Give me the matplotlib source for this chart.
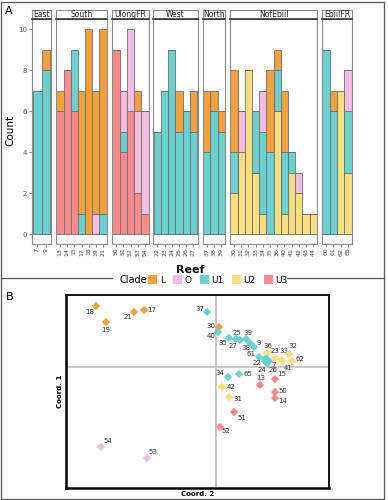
import matplotlib
matplotlib.use("Agg")
import matplotlib.pyplot as plt
from matplotlib.patches import Patch, Rectangle
from matplotlib.lines import Line2D

# ---- panel A data: reef groups, reefs, clade counts per reef ----
regions = ['East', 'South', 'UlongFR', 'West', 'North', 'NofEbiil', 'EbiilFR']
reefs = [['7', '9'],
         ['13', '14', '15', '17', '18', '19', '21'],
         ['50', '51', '52', '53', '54'],
         ['22', '23', '24', '25', '26', '27'],
         ['37', '38', '39'],
         ['30', '31', '32', '33', '34', '35', '36', '40', '41', '42', '43', '44'],
         ['60', '61', '62', '65']]

count_L = [[0, 1], [1, 0, 0, 6, 10, 6, 9], [0, 0, 0, 1, 0], [0, 0, 0, 2, 0, 2], [3, 1, 1],
           [4, 0, 0, 0, 0, 4, 1, 3, 0, 0, 0, 0], [0, 1, 0, 0]]
count_O = [[0, 0], [0, 0, 0, 0, 0, 1, 0], [0, 2, 4, 4, 5], [0, 0, 0, 0, 0, 0], [0, 0, 0],
           [0, 2, 0, 0, 2, 0, 0, 0, 0, 1, 0, 0], [0, 0, 0, 2]]
count_U1 = [[7, 8], [0, 0, 3, 1, 0, 0, 1], [0, 1, 0, 0, 0], [5, 7, 9, 5, 6, 5], [4, 6, 5],
            [2, 0, 0, 3, 4, 4, 2, 3, 1, 0, 0, 0], [9, 6, 0, 3]]
count_U2 = [[0, 0], [0, 0, 0, 0, 0, 0, 0], [0, 0, 0, 0, 0], [0, 0, 0, 0, 0, 0], [0, 0, 0],
            [2, 4, 8, 3, 1, 0, 6, 1, 3, 2, 1, 1], [0, 0, 7, 3]]
count_U3 = [[0, 0], [6, 8, 6, 0, 0, 0, 0], [9, 4, 6, 2, 1], [0, 0, 0, 0, 0, 0], [0, 0, 0],
            [0] * 12, [0, 0, 0, 0]]

clades = ['L', 'O', 'U1', 'U2', 'U3']
colors = {'L': '#F4A03E', 'O': '#F2BCE3', 'U1': '#6BD0D0', 'U2': '#F8DE7E', 'U3': '#F98B8B'}

# ---- panel B data: PCoA coordinates ----
pt_names = ['18', '21', '17', '19', '37', '30', '40', '35', '25', '27', '39', '38', '9',
            '61', '36', '23', '33', '41', '32', '62', '22', '7', '24', '26', '34', '65',
            '15', '13', '42', '50', '14', '31', '51', '52', '54', '53']
coord2 = [-1.20, -0.82, -0.72, -1.10, -0.09, 0.03, 0.02, 0.13, 0.20, 0.24, 0.30, 0.34, 0.38,
          0.43, 0.51, 0.59, 0.655, 0.66, 0.73, 0.76, 0.49, 0.51, 0.51, 0.52, 0.12, 0.23,
          0.59, 0.44, 0.06, 0.59, 0.59, 0.13, 0.18, 0.04, -1.15, -0.69]
coord1 = [0.61, 0.55, 0.57, 0.45, 0.55, 0.40, 0.35, 0.29, 0.28, 0.27, 0.28, 0.24, 0.20,
          0.10, 0.14, 0.09, 0.07, 0.06, 0.13, 0.06, 0.08, 0.06, 0.04, 0.05, -0.10, -0.07,
          -0.12, -0.18, -0.20, -0.25, -0.31, -0.30, -0.45, -0.60, -0.80, -0.91]
pt_clade = ['L', 'L', 'L', 'L', 'U1', 'L', 'U1', 'U1', 'U1', 'U1', 'U1', 'U1', 'U1',
            'U1', 'U2', 'U2', 'U2', 'U2', 'U2', 'U2', 'U1', 'U1', 'U1', 'U1', 'U1', 'U1',
            'U3', 'U3', 'U2', 'U3', 'U3', 'U2', 'U3', 'U3', 'O', 'O']
# label offsets in pixels (right, down)
lab_dx = [-6, -6, 8, 0, -7, -8, -7, -6, 1, -7, 2, -4, 5, -8, 1, 0, 2, 6, 4, 8, -8, 7, -5, 5,
          -8, 9, 7, 1, 9, 8, 8, 9, 8, 6, 7, 6]
lab_dy = [6, 5, 0, 8, -3, -1, 4, 5, -6, 6, -6, 5, -4, -3, -7, -7, -9, 7, -8, -2, 4, 4, 7, 8,
          -4, 0, -5, -7, 0, -1, 3, 2, 6, 4, -6, -6]

W, H = 388, 500
fig = plt.figure(figsize=(W / 100, H / 100), dpi=100)


def box(x0, y0, x1, y1):
    return [x0 / W, 1 - y1 / H, (x1 - x0) / W, (y1 - y0) / H]


# facet x extents in pixels
facet_x = [(32.3, 50.7), (56, 107), (112, 149), (153.3, 197.5), (202.7, 225.3), (230, 317.3), (322, 352)]
top, strip_h, bottom = 19, 9.5, 243.5
stack_order = ['U3', 'U2', 'U1', 'O', 'L']
data = {'L': count_L, 'O': count_O, 'U1': count_U1, 'U2': count_U2, 'U3': count_U3}

for i, reg in enumerate(regions):
    x0, x1 = facet_x[i]
    ax = fig.add_axes(box(x0, top, x1, bottom))
    n = len(reefs[i])
    base = [0] * n
    for c in stack_order:
        vals = data[c][i]
        ax.bar(range(n), vals, bottom=base, width=1, color=colors[c],
               edgecolor='#6f6f6f', linewidth=0.6)
        base = [b + v for b, v in zip(base, vals)]
    ax.set_xlim(-0.56, n - 0.44)
    ax.set_ylim(-0.45, 10.5)
    ax.set_xticks(range(n))
    ax.set_xticklabels(reefs[i], rotation=90, fontsize=4.5, color='#4d4d4d')
    ax.tick_params(axis='x', length=2, width=0.5, color='#4d4d4d', pad=1)
    for s in ax.spines.values():
        s.set_color('#8a8a8a')
        s.set_linewidth(0.8)
    if i == 0:
        ax.set_yticks([0, 2, 4, 6, 8, 10])
        ax.tick_params(axis='y', length=2, width=0.5, color='#4d4d4d', labelsize=5,
                       labelcolor='#4d4d4d', pad=2)
    else:
        ax.set_yticks([])
    # strip
    sax = fig.add_axes(box(x0, top - strip_h, x1, top))
    sax.set_xticks([])
    sax.set_yticks([])
    for s in sax.spines.values():
        s.set_color('#8a8a8a')
        s.set_linewidth(0.8)
    sax.spines['bottom'].set_color('#333333')
    sax.spines['bottom'].set_linewidth(1.2)
    sax.text(0.5, 0.45, reg, ha='center', va='center', fontsize=5.5, color='#222222',
             transform=sax.transAxes)

fig.text(10 / W, 1 - 130 / H, 'Count', rotation=90, ha='center', va='center', fontsize=7.5)
fig.text(190 / W, 1 - 270 / H, 'Reef', ha='center', va='center', fontsize=8, fontweight='bold')
fig.text(9 / W, 1 - 11 / H, 'A', ha='center', va='center', fontsize=8)
fig.text(10 / W, 1 - 297 / H, 'B', ha='center', va='center', fontsize=8)

# legend
fig.text(147 / W, 1 - 280 / H, 'Clade', ha='right', va='center', fontsize=7)
handles = [Patch(facecolor=colors[c], edgecolor='none', label=c) for c in clades]
fig.legend(handles=handles, loc='center left', bbox_to_anchor=(148 / W, 1 - 280 / H), ncol=5,
           frameon=False, fontsize=6.5, handlelength=1.0, handleheight=1.0,
           handletextpad=0.3, columnspacing=0.9, borderpad=0, borderaxespad=0)

# outer frames
lc = '#555555'
fig.add_artist(Line2D([1 / W, 384 / W], [1 - 1.5 / H, 1 - 1.5 / H], color=lc, lw=0.9))
fig.add_artist(Line2D([1 / W, 1 / W], [1 - 1.5 / H, 1 - 499 / H], color=lc, lw=0.9))
fig.add_artist(Line2D([384 / W, 384 / W], [1 - 1.5 / H, 1 - 499 / H], color=lc, lw=0.9))
fig.add_artist(Line2D([1 / W, 384 / W], [1 - 499 / H, 1 - 499 / H], color=lc, lw=0.9))
fig.add_artist(Line2D([1 / W, 112 / W], [1 - 278 / H, 1 - 278 / H], color=lc, lw=0.9))
fig.add_artist(Line2D([287 / W, 384 / W], [1 - 278 / H, 1 - 278 / H], color=lc, lw=0.9))

# ---- panel B ----
bx = fig.add_axes(box(65.5, 294.5, 329, 488))
bx.axvline(0, color='#c4c4c4', lw=1.3, zorder=0)
bx.axhline(0, color='#c4c4c4', lw=1.3, zorder=0)
for nm, x, y, c, dx, dy in zip(pt_names, coord2, coord1, pt_clade, lab_dx, lab_dy):
    size = 40 if nm == '7' else 18
    bx.scatter(x, y, marker='D', s=size, color=colors[c], edgecolor='none', zorder=3)
    bx.annotate(nm, (x, y), xytext=(dx, -dy), textcoords='offset pixels', ha='center',
                va='center', fontsize=5, color='#333333')
bx.set_xlim(-1.505, 1.13)
bx.set_ylim(-1.21, 0.725)
bx.set_xticks([])
bx.set_yticks([])
for s in bx.spines.values():
    s.set_color('black')
    s.set_linewidth(1.3)
bx.spines['left'].set_linewidth(1.8)
bx.spines['bottom'].set_linewidth(1.8)
bx.set_xlabel('Coord. 2', fontsize=5, fontweight='bold', labelpad=2)
bx.set_ylabel('Coord. 1', fontsize=5, fontweight='bold', labelpad=2)

fig.savefig('out.png', dpi=100)
